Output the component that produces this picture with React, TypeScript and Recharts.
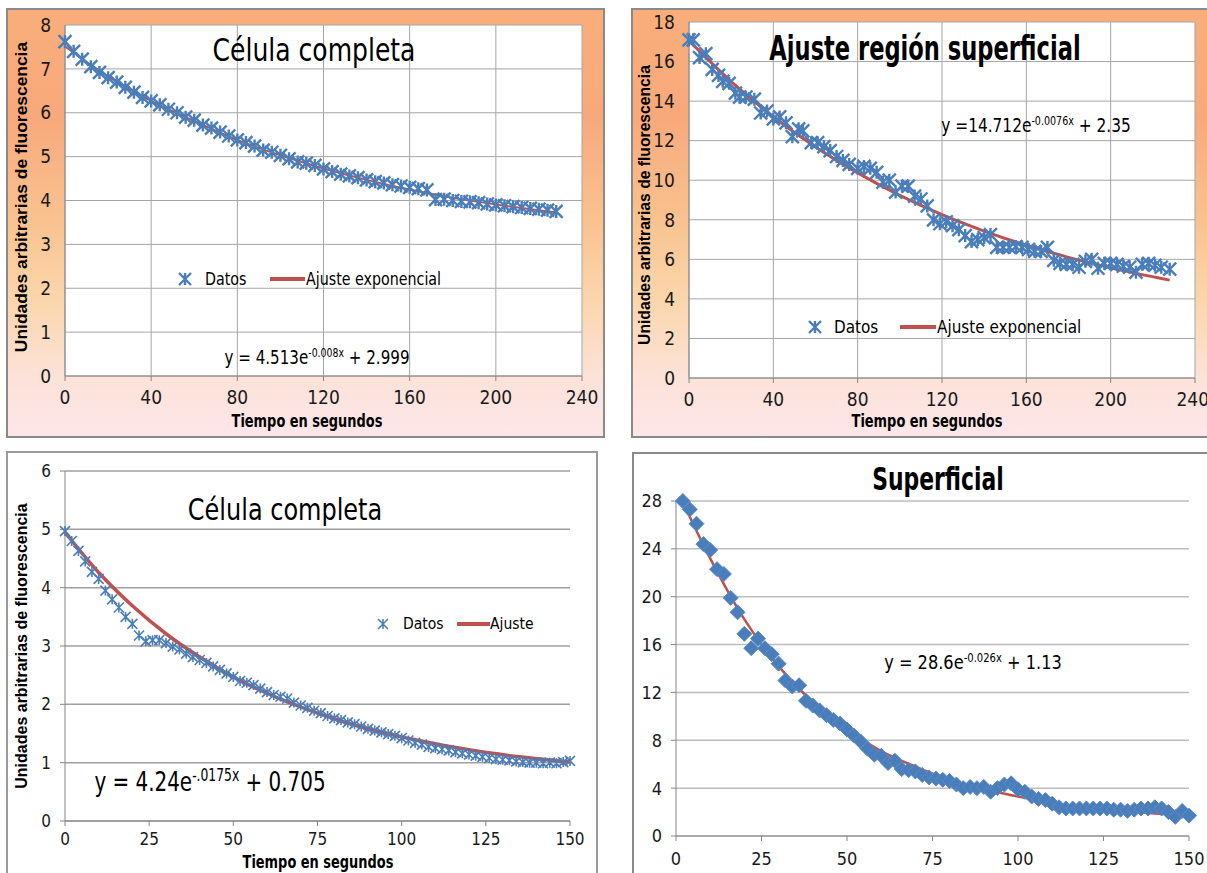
import React from "react";
import { ComposedChart, Scatter, Line, XAxis, YAxis, CartesianGrid } from "recharts";

// ---- data ----
const p1Time = [0, 4, 8, 12, 16, 20, 24, 28, 32, 36, 40, 44, 48, 52, 56, 60, 64, 68, 72, 76, 80, 84, 88, 92, 96, 100, 104, 108, 112, 116, 120, 124, 128, 132, 136, 140, 144, 148, 152, 156, 160, 164, 168, 172, 176, 180, 184, 188, 192, 196, 200, 204, 208, 212, 216, 220, 224, 228];
const p1Vals = [7.62, 7.4, 7.22, 7.05, 6.92, 6.8, 6.7, 6.58, 6.47, 6.35, 6.27, 6.18, 6.08, 6.0, 5.9, 5.83, 5.72, 5.65, 5.56, 5.47, 5.38, 5.32, 5.24, 5.15, 5.1, 5.03, 4.95, 4.88, 4.85, 4.8, 4.72, 4.66, 4.6, 4.56, 4.52, 4.47, 4.43, 4.4, 4.36, 4.33, 4.3, 4.27, 4.24, 4.02, 4.03, 4.0, 3.98, 3.97, 3.95, 3.92, 3.9, 3.88, 3.86, 3.84, 3.82, 3.8, 3.78, 3.75];
const p1FitTime = [0, 20, 40, 60, 80, 100, 120, 140, 160, 180, 200, 228];
const p1FitVals = [7.51, 6.83, 6.27, 5.81, 5.38, 5.03, 4.73, 4.47, 4.25, 4.06, 3.91, 3.73];

const p2Time = [0, 2, 5, 8, 11, 14, 16, 19, 22, 24, 27, 31, 34, 37, 40, 43, 46, 49, 52, 54, 58, 61, 64, 67, 70, 73, 76, 80, 83, 86, 89, 92, 95, 98, 101, 104, 107, 110, 113, 116, 119, 122, 125, 128, 131, 134, 137, 140, 143, 146, 149, 152, 155, 158, 161, 164, 167, 170, 173, 176, 179, 182, 185, 188, 191, 194, 197, 200, 203, 206, 209, 212, 215, 218, 221, 224, 228];
const p2Vals = [17.1, 17.1, 16.2, 16.4, 15.6, 15.3, 15.0, 14.9, 14.4, 14.2, 14.2, 14.1, 13.4, 13.5, 13.1, 13.2, 12.9, 12.2, 12.6, 12.5, 11.9, 11.9, 11.7, 11.5, 11.2, 11.0, 10.8, 10.6, 10.7, 10.6, 10.4, 9.9, 10.0, 9.4, 9.7, 9.7, 9.2, 9.05, 8.7, 8.0, 7.8, 7.9, 7.7, 7.5, 7.2, 6.9, 7.0, 7.1, 7.25, 6.6, 6.6, 6.6, 6.65, 6.6, 6.5, 6.4, 6.4, 6.6, 5.95, 5.8, 5.75, 5.75, 5.6, 5.9, 6.0, 5.55, 5.8, 5.8, 5.75, 5.65, 5.6, 5.35, 5.75, 5.8, 5.7, 5.6, 5.5];
const p2FitTime = [0, 20, 40, 60, 80, 100, 120, 140, 160, 180, 200, 228];
const p2FitVals = [17.06, 14.99, 13.21, 11.68, 10.37, 9.23, 8.26, 7.43, 6.71, 6.1, 5.57, 4.95];

const p3Time = [0, 2, 4, 6, 8, 10, 12, 14, 16, 18, 20, 22, 24, 26, 28, 30, 32, 34, 36, 38, 40, 42, 44, 46, 48, 50, 52, 54, 56, 58, 60, 62, 64, 66, 68, 70, 72, 74, 76, 78, 80, 82, 84, 86, 88, 90, 92, 94, 96, 98, 100, 102, 104, 106, 108, 110, 112, 114, 116, 118, 120, 122, 124, 126, 128, 130, 132, 134, 136, 138, 140, 142, 144, 146, 148, 150];
const p3Vals = [4.97, 4.8, 4.63, 4.45, 4.27, 4.15, 3.95, 3.8, 3.66, 3.5, 3.38, 3.18, 3.08, 3.1, 3.1, 3.05, 2.99, 2.94, 2.87, 2.81, 2.76, 2.71, 2.65, 2.59, 2.53, 2.47, 2.4, 2.37, 2.33, 2.27, 2.21, 2.16, 2.13, 2.1, 2.03, 1.98, 1.94, 1.89, 1.85, 1.8, 1.76, 1.73, 1.69, 1.66, 1.62, 1.58, 1.55, 1.52, 1.49, 1.46, 1.42, 1.38, 1.34, 1.31, 1.27, 1.25, 1.23, 1.21, 1.18, 1.16, 1.14, 1.12, 1.1, 1.08, 1.06, 1.05, 1.04, 1.02, 1.01, 1.0, 1.0, 0.99, 1.0, 0.99, 1.01, 1.03];
const p3FitTime = [0, 10, 20, 30, 40, 50, 60, 75, 90, 105, 120, 135, 150];
const p3FitVals = [4.95, 4.26, 3.69, 3.21, 2.81, 2.47, 2.19, 1.85, 1.58, 1.38, 1.22, 1.1, 1.01];

const p4Time = [2, 4, 6, 8, 10, 12, 14, 16, 18, 20, 22, 24, 26, 28, 30, 32, 34, 36, 38, 40, 42, 44, 46, 48, 50, 52, 54, 56, 58, 60, 62, 64, 66, 68, 70, 72, 74, 76, 78, 80, 82, 84, 86, 88, 90, 92, 94, 96, 98, 100, 102, 104, 106, 108, 110, 112, 114, 116, 118, 120, 122, 124, 126, 128, 130, 132, 134, 136, 138, 140, 142, 144, 146, 148, 150];
const p4Vals = [28.0, 27.3, 26.1, 24.4, 23.9, 22.3, 21.9, 19.9, 18.7, 16.9, 15.7, 16.5, 15.7, 15.2, 14.4, 13.0, 12.5, 12.6, 11.3, 10.9, 10.5, 10.1, 9.7, 9.4, 8.9, 8.4, 7.9, 7.3, 6.8, 6.7, 6.1, 6.3, 5.6, 5.5, 5.4, 5.1, 4.9, 4.8, 4.7, 4.6, 4.3, 4.0, 4.1, 4.0, 4.1, 3.7, 4.0, 4.3, 4.4, 3.9, 3.7, 3.3, 3.1, 3.0, 2.7, 2.4, 2.3, 2.3, 2.3, 2.3, 2.3, 2.3, 2.3, 2.2, 2.2, 2.1, 2.2, 2.3, 2.3, 2.4, 2.3, 2.0, 1.6, 2.1, 1.7];
const p4FitTime = [2, 10, 20, 30, 40, 50, 60, 70, 80, 90, 100, 110, 120, 130, 140, 150];
const p4FitVals = [27.9, 23.2, 18.1, 14.2, 11.2, 8.9, 7.1, 5.8, 4.7, 3.9, 3.3, 2.77, 2.39, 2.1, 1.88, 1.71];

const ticks240 = [0, 40, 80, 120, 160, 200, 240];
const ticks150 = [0, 25, 50, 75, 100, 125, 150];
const p1YTicks = [0, 1, 2, 3, 4, 5, 6, 7, 8];
const p2YTicks = [0, 2, 4, 6, 8, 10, 12, 14, 16, 18];
const p3YTicks = [0, 1, 2, 3, 4, 5, 6];
const p4YTicks = [0, 4, 8, 12, 16, 20, 24, 28];

const zip = (t: number[], v: number[]) => t.map((x, i) => ({ t: x, v: v[i] }));

const BLUE = "#4a7ebb";
const RED = "#c0504d";
const AXIS = "#868686";
const CAL = '"Liberation Sans Narrow", "DejaVu Sans Condensed", "Roboto Condensed", "Open Sans", sans-serif';
const ARIAL = '"Liberation Sans", Arial, sans-serif';

const star = (s: number, w: number) => (props: any) => {
  const { cx, cy } = props;
  if (cx == null || cy == null) return <g />;
  return (
    <path
      d={`M${cx - s},${cy - s}L${cx + s},${cy + s}M${cx - s},${cy + s}L${cx + s},${cy - s}M${cx},${cy - s}L${cx},${cy + s}`}
      stroke={BLUE}
      strokeWidth={w}
      fill="none"
    />
  );
};

const diamond = (props: any) => {
  const { cx, cy } = props;
  if (cx == null || cy == null) return <g />;
  const s = 7.5;
  return <path d={`M${cx},${cy - s}L${cx + s},${cy}L${cx},${cy + s}L${cx - s},${cy}Z`} fill={BLUE} stroke="#5b8bc6" strokeWidth={1} />;
};

const abs = (x: number, y: number, extra: React.CSSProperties = {}): React.CSSProperties => ({
  position: "absolute",
  left: x,
  top: y,
  whiteSpace: "nowrap",
  lineHeight: 1,
  color: "#000",
  ...extra,
});

const Center = ({ x, y, size, bold, font, children, rotate, k = 1 }: any) => (
  <div
    style={abs(x, y, {
      fontSize: size,
      fontWeight: bold ? 700 : 400,
      fontFamily: font,
      transform: `translate(-50%,-50%)${rotate ? " rotate(-90deg)" : ""} scaleX(${k})`,
    })}
  >
    {children}
  </div>
);

const Left = ({ x, y, size, font, children, k = 1 }: any) => (
  <div style={abs(x, y, { fontSize: size, fontFamily: font, transformOrigin: "0 50%", transform: `translate(0,-50%) scaleX(${k})` })}>{children}</div>
);

const Sup = ({ children }: any) => <span style={{ fontSize: "0.62em", verticalAlign: "0.62em" }}>{children}</span>;

const LegendRow = ({ y, markX, textX, lineX1, lineX2, fitX, fitLabel, size, s, w, lw, k }: any) => (
  <>
    <svg style={{ position: "absolute", left: markX - 10, top: y - 10 }} width={20} height={20}>
      {star(s, w)({ cx: 10, cy: 10 })}
    </svg>
    <Left x={textX} y={y} size={size} font={CAL} k={k}>Datos</Left>
    <div style={{ position: "absolute", left: lineX1, top: y - lw / 2, width: lineX2 - lineX1, height: lw, background: RED }} />
    <Left x={fitX} y={y} size={size} font={CAL} k={k}>{fitLabel}</Left>
  </>
);

const axisTick = (size: number) => ({ fill: "#1a1a1a", fontSize: size, fontFamily: CAL });

const Panel1 = () => (
  <ComposedChart width={599} height={430} margin={{ top: 17, right: 23, bottom: 32, left: 29 }} style={{ position: "absolute", left: 6, top: 8 }}>
    <CartesianGrid stroke="#a6a6a6" fill="#ffffff" />
    <XAxis type="number" dataKey="t" domain={[0, 240]} ticks={ticks240} height={30} axisLine={{ stroke: AXIS }} tickLine={{ stroke: AXIS }} tickSize={5} tickMargin={10} tick={axisTick(19)} />
    <YAxis type="number" domain={[0, 8]} ticks={p1YTicks} width={30} axisLine={{ stroke: AXIS }} tickLine={false} tickMargin={8} tick={axisTick(19)} />
    <Line data={zip(p1FitTime, p1FitVals)} dataKey="v" type="monotone" stroke={RED} strokeWidth={2} dot={false} isAnimationActive={false} />
    <Scatter data={zip(p1Time, p1Vals)} dataKey="v" shape={star(6.5, 2.4)} isAnimationActive={false} />
  </ComposedChart>
);

const Panel2 = () => (
  <ComposedChart width={576} height={430} margin={{ top: 14, right: 12, bottom: 30, left: 28 }} style={{ position: "absolute", left: 631, top: 8 }}>
    <CartesianGrid stroke="#a6a6a6" fill="#ffffff" />
    <XAxis type="number" dataKey="t" domain={[0, 240]} ticks={ticks240} height={30} axisLine={{ stroke: AXIS }} tickLine={{ stroke: AXIS }} tickSize={5} tickMargin={10} tick={axisTick(19)} />
    <YAxis type="number" domain={[0, 18]} ticks={p2YTicks} width={30} axisLine={{ stroke: AXIS }} tickLine={false} tickMargin={8} tick={axisTick(19)} />
    <Line data={zip(p2FitTime, p2FitVals)} dataKey="v" type="monotone" stroke={RED} strokeWidth={3} dot={false} isAnimationActive={false} />
    <Scatter data={zip(p2Time, p2Vals)} dataKey="v" shape={star(6.5, 2.4)} isAnimationActive={false} />
  </ComposedChart>
);

const Panel3 = () => (
  <ComposedChart width={592} height={422} margin={{ top: 20, right: 28, bottom: 22, left: 29 }} style={{ position: "absolute", left: 6, top: 451 }}>
    <CartesianGrid vertical={false} stroke="#a0a0a0" strokeWidth={1.5} />
    <XAxis type="number" dataKey="t" domain={[0, 150]} ticks={ticks150} height={30} axisLine={{ stroke: AXIS }} tickLine={{ stroke: AXIS }} tickSize={5} tickMargin={7} tick={axisTick(17)} />
    <YAxis type="number" domain={[0, 6]} ticks={p3YTicks} width={30} axisLine={{ stroke: AXIS }} tickLine={{ stroke: AXIS }} tickSize={5} tickMargin={9} tick={axisTick(17)} />
    <Scatter data={zip(p3Time, p3Vals)} dataKey="v" shape={star(5, 1.6)} isAnimationActive={false} />
    <Line data={zip(p3FitTime, p3FitVals)} dataKey="v" type="monotone" stroke={RED} strokeWidth={3.5} dot={false} isAnimationActive={false} />
  </ComposedChart>
);

const Panel4 = () => (
  <ComposedChart width={575} height={421} margin={{ top: 49, right: 18, bottom: 7, left: 14 }} style={{ position: "absolute", left: 632, top: 452 }}>
    <CartesianGrid vertical={false} stroke="#bdbdbd" strokeWidth={1.5} />
    <XAxis type="number" dataKey="t" domain={[0, 150]} ticks={ticks150} height={30} axisLine={{ stroke: AXIS }} tickLine={{ stroke: AXIS }} tickSize={5} tickMargin={11} tick={axisTick(18)} />
    <YAxis type="number" domain={[0, 28]} ticks={p4YTicks} width={30} axisLine={{ stroke: AXIS }} tickLine={{ stroke: AXIS }} tickSize={5} tickMargin={9} tick={axisTick(18)} />
    <Line data={zip(p4FitTime, p4FitVals)} dataKey="v" type="monotone" stroke={RED} strokeWidth={2.5} dot={false} isAnimationActive={false} />
    <Scatter data={zip(p4Time, p4Vals)} dataKey="v" shape={diamond} isAnimationActive={false} />
  </ComposedChart>
);

const warm = "linear-gradient(180deg, #f9ae7a 0%, #f8a97c 25%, #f9c390 50%, #fbd6ac 68%, #fce2d6 85%, #fde6ea 100%)";

const box = (x: number, y: number, w: number, h: number, bg: string, border: string): React.CSSProperties => ({
  position: "absolute",
  left: x,
  top: y,
  width: w,
  height: h,
  boxSizing: "border-box",
  border: `2px solid ${border}`,
  background: bg,
});

export default function App() {
  return (
    <div style={{ position: "absolute", left: 0, top: 0, width: 1207, height: 873, overflow: "hidden", background: "#fff" }}>
      <div style={box(6, 8, 599, 430, warm, "#8a8a8a")} />
      <div style={box(631, 8, 590, 430, warm, "#8a8a8a")} />
      <div style={box(6, 451, 592, 440, "#fff", "#9a9a9a")} />
      <div style={box(632, 452, 590, 440, "#fff", "#8a8a8a")} />

      <Panel1 />
      <Panel2 />
      <Panel3 />
      <Panel4 />

      {/* panel 1 */}
      <Center x={314} y={50} size={32} font={CAL} k={0.87}>Célula completa</Center>
      <Center x={22} y={197} size={17.4} bold font={ARIAL} rotate>Unidades arbitrarias  de fluorescencia</Center>
      <Center x={307} y={421} size={18} bold font={CAL} k={0.8}>Tiempo en segundos</Center>
      <LegendRow y={279} markX={185} textX={205} lineX1={270} lineX2={305} fitX={306} fitLabel="Ajuste exponencial" size={18} s={6} w={2.4} lw={4} k={0.88} />
      <Center x={317} y={357} size={20} font={CAL} k={0.84}>
        y = 4.513e<Sup>-0.008x</Sup> + 2.999
      </Center>

      {/* panel 2 */}
      <Center x={925} y={48} size={33} bold font={CAL} k={0.76}>Ajuste región superficial</Center>
      <Center x={645} y={205} size={15.7} bold font={ARIAL} rotate>Unidades arbitrarias  de fluorescencia</Center>
      <Center x={927} y={421} size={18} bold font={CAL} k={0.8}>Tiempo en segundos</Center>
      <LegendRow y={327} markX={815} textX={834} lineX1={900} lineX2={936} fitX={937} fitLabel="Ajuste exponencial" size={18} s={6} w={2.4} lw={4} k={0.94} />
      <Center x={1036} y={125} size={20} font={CAL} k={0.855}>
        y =14.712e<Sup>-0.0076x</Sup> + 2.35
      </Center>

      {/* panel 3 */}
      <Center x={285} y={509} size={31} font={CAL} k={0.86}>Célula completa</Center>
      <Center x={22} y={646} size={16} bold font={ARIAL} rotate>Unidades arbitrarias de fluorescencia</Center>
      <Center x={318} y={862} size={18} bold font={CAL} k={0.8}>Tiempo en segundos</Center>
      <LegendRow y={624} markX={383} textX={403} lineX1={457} lineX2={490} fitX={490} fitLabel="Ajuste" size={16} s={5} w={1.5} lw={3.5} k={0.97} />
      <Center x={210} y={781} size={27} font={CAL} k={0.82}>
        y = 4.24e<Sup>-.0175x</Sup> + 0.705
      </Center>

      {/* panel 4 */}
      <Center x={938} y={479} size={32} bold font={CAL} k={0.76}>Superficial</Center>
      <Center x={973} y={662} size={20} font={CAL} k={0.9}>
        y = 28.6e<Sup>-0.026x</Sup> + 1.13
      </Center>
    </div>
  );
}
